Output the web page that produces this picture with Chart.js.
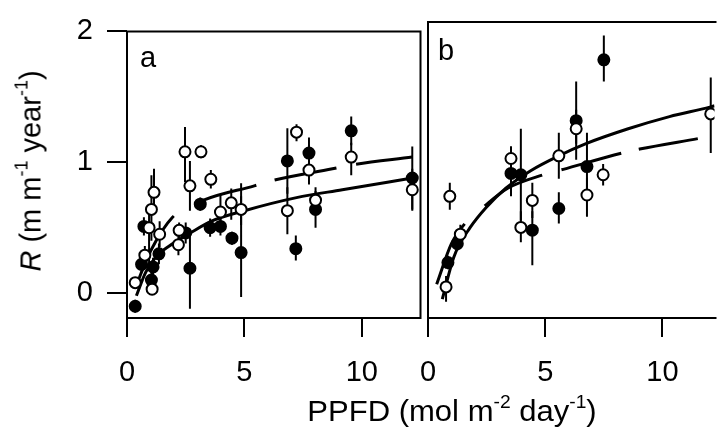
<!DOCTYPE html>
<html><head><meta charset="utf-8">
<script src="https://cdn.jsdelivr.net/npm/chart.js@4.4.1/dist/chart.umd.min.js"></script>
<style>
html,body{margin:0;padding:0;background:#fff;}
#wrap{position:relative;width:722px;height:432px;overflow:hidden;background:#fff;font-family:"Liberation Sans",Arial,sans-serif;color:#000;}
#ca{position:absolute;left:0;top:0;}
#cb{position:absolute;left:400px;top:0;}
.sup{font-size:0.62em;position:relative;top:-0.75em;}
#xt{position:absolute;left:252px;top:397px;width:400px;text-align:center;font-size:29px;line-height:29px;white-space:nowrap;transform:scaleX(1.07);}
#yt{position:absolute;left:31px;top:171px;width:320px;height:29px;line-height:29px;font-size:29px;text-align:center;white-space:nowrap;transform:translate(-50%,-50%) rotate(-90deg);}
</style></head>
<body>
<div id="wrap">
<canvas id="ca" width="428" height="432"></canvas>
<canvas id="cb" width="322" height="432"></canvas>
<div id="xt">PPFD (mol m<span class="sup">-2</span> day<span class="sup">-1</span>)</div>
<div id="yt"><i>R</i> (m m<span class="sup">-1</span> year<span class="sup">-1</span>)</div>
</div>
<script>
// ---- tick labels / panel labels ----
const panelLabels = ['a', 'b'];
const xTickValues = [0, 5, 10];
const yTickValues = [0, 1, 2];

// ---- panel a: filled circles ----
const aFilledX  = [0.35, 0.62, 0.72, 1.04, 1.11, 1.36, 2.5, 2.68, 3.12, 3.54, 3.98, 4.47, 4.86, 6.83, 7.19, 7.75, 8.03, 9.55, 12.15];
const aFilledY  = [-0.10, 0.22, 0.51, 0.10, 0.20, 0.30, 0.46, 0.19, 0.68, 0.50, 0.51, 0.42, 0.31, 1.01, 0.34, 1.07, 0.64, 1.24, 0.88];
const aFilledLo = [-0.15, 0.16, 0.44, 0.04, 0.13, 0.22, 0.38, -0.12, 0.63, 0.43, 0.44, 0.37, -0.03, 0.76, 0.25, 0.95, 0.50, 1.13, 0.64];
const aFilledHi = [-0.05, 0.28, 0.58, 0.16, 0.27, 0.38, 0.54, 0.47, 0.73, 0.57, 0.58, 0.47, 0.84, 1.26, 0.44, 1.19, 0.78, 1.35, 1.12];

// ---- panel a: open circles ----
const aOpenX  = [0.35, 0.76, 0.94, 1.04, 1.15, 1.07, 1.39, 2.22, 2.19, 2.47, 2.68, 3.15, 3.57, 3.98, 4.44, 4.86, 6.83, 7.22, 7.75, 8.03, 9.55, 12.15];
const aOpenY  = [0.08, 0.29, 0.50, 0.64, 0.77, 0.03, 0.45, 0.48, 0.37, 1.08, 0.82, 1.08, 0.87, 0.62, 0.69, 0.64, 0.63, 1.23, 0.94, 0.71, 1.04, 0.79];
const aOpenLo = [0.05, 0.22, 0.20, 0.40, 0.62, -0.01, 0.35, 0.42, 0.29, 0.85, 0.63, 1.03, 0.80, 0.50, 0.56, 0.52, 0.45, 1.16, 0.83, 0.60, 0.90, 0.63];
const aOpenHi = [0.11, 0.36, 0.62, 0.90, 0.95, 0.07, 0.55, 0.54, 0.45, 1.27, 1.01, 1.13, 0.94, 0.75, 0.80, 0.74, 0.81, 1.29, 1.05, 0.81, 1.15, 0.95];

// ---- panel b: filled circles ----
const bFilledX  = [0.85, 1.25, 3.54, 3.96, 4.45, 5.58, 6.32, 6.78, 7.5];
const bFilledY  = [0.22, 0.36, 0.88, 0.87, 0.46, 0.62, 1.27, 0.93, 1.72];
const bFilledLo = [0.17, 0.31, 0.71, 0.53, 0.20, 0.51, 1.10, 0.72, 1.56];
const bFilledHi = [0.27, 0.41, 1.00, 1.21, 0.60, 0.74, 1.56, 1.18, 1.90];

// ---- panel b: open circles ----
const bOpenX  = [0.77, 0.93, 1.38, 3.54, 3.96, 4.45, 5.58, 6.32, 6.78, 7.47, 12.06];
const bOpenY  = [0.04, 0.71, 0.43, 0.99, 0.48, 0.68, 1.01, 1.21, 0.72, 0.87, 1.32];
const bOpenLo = [-0.07, 0.61, 0.37, 0.90, 0.37, 0.55, 0.84, 0.98, 0.56, 0.79, 1.03];
const bOpenHi = [0.12, 0.81, 0.50, 1.08, 0.60, 0.81, 1.18, 1.35, 0.85, 0.95, 1.59];

// ---- fitted curves ----
const aSolidX = [0.4, 0.8, 1.25, 1.8, 2.7, 3.6, 5.0, 7.22, 9.17, 12.15];
const aSolidY = [-0.02, 0.16, 0.28, 0.36, 0.46, 0.55, 0.63, 0.73, 0.79, 0.88];
const aDashX  = [0.35, 1.0, 1.94, 3.26, 5.42, 6.18, 8.75, 9.58, 12.15];
const aDashY  = [0.04, 0.32, 0.58, 0.71, 0.82, 0.86, 0.95, 0.98, 1.04];
const bSolidX = [0.61, 1.1, 1.8, 2.49, 3.32, 4.38, 5.58, 6.74, 8.54, 10.3, 12.02, 12.22];
const bSolidY = [-0.05, 0.26, 0.48, 0.63, 0.77, 0.90, 1.01, 1.10, 1.21, 1.30, 1.37, 1.38];
const bDashX  = [0.37, 1.0, 1.58, 2.42, 3.4, 4.93, 5.77, 8.27, 9.03, 11.6, 12.22];
const bDashY  = [0.06, 0.36, 0.51, 0.64, 0.77, 0.87, 0.91, 1.03, 1.06, 1.14, 1.16];

const FONT = '"Liberation Sans", Arial, sans-serif';

function pts(xs, ys) { return xs.map((x, i) => ({ x: x, y: ys[i] })); }
function errSegs(xs, lo, hi) {
  const d = [];
  xs.forEach((x, i) => { d.push({ x: x, y: lo[i] }, { x: x, y: hi[i] }, { x: x, y: null }); });
  return d;
}

const framePlugin = {
  id: 'frame',
  afterDatasetsDraw(chart, args, opts) {
    const ctx = chart.ctx, a = chart.chartArea;
    ctx.save();
    ctx.strokeStyle = '#000';
    ctx.lineWidth = 2;
    ctx.beginPath();
    if (opts.closed) {
      ctx.rect(a.left, a.top, a.right - a.left, a.bottom - a.top);
    } else {
      ctx.moveTo(a.right + 2, a.top);
      ctx.lineTo(a.left, a.top);
      ctx.lineTo(a.left, a.bottom);
      ctx.lineTo(a.right + 2, a.bottom);
    }
    ctx.stroke();
    ctx.fillStyle = '#000';
    ctx.font = '29px ' + FONT;
    ctx.textBaseline = 'alphabetic';
    ctx.textAlign = 'left';
    ctx.fillText(opts.label, a.left + opts.dx, a.top + opts.dy);
    ctx.restore();
  }
};

function makeDatasets(fX, fY, fLo, fHi, oX, oY, oLo, oHi, sX, sY, dX, dY, dash) {
  return [
    { data: pts(oX, oY), showLine: false, pointRadius: 5.5, pointBackgroundColor: '#fff', pointBorderColor: '#000', pointBorderWidth: 2 },
    { data: pts(fX, fY), showLine: false, pointRadius: 5.5, pointBackgroundColor: '#000', pointBorderColor: '#000', pointBorderWidth: 2 },
    { data: errSegs(oX, oLo, oHi), showLine: true, spanGaps: false, pointRadius: 0, borderColor: '#000', borderWidth: 2 },
    { data: errSegs(fX, fLo, fHi), showLine: true, spanGaps: false, pointRadius: 0, borderColor: '#000', borderWidth: 2 },
    { data: pts(sX, sY), showLine: true, pointRadius: 0, borderColor: '#000', borderWidth: 3, cubicInterpolationMode: 'monotone' },
    { data: pts(dX, dY), showLine: true, pointRadius: 0, borderColor: '#000', borderWidth: 3, borderDash: dash, cubicInterpolationMode: 'monotone' }
  ];
}

function xScale(max) {
  return {
    type: 'linear', min: 0, max: max,
    afterBuildTicks: s => { s.ticks = xTickValues.map(v => ({ value: v })); },
    afterFit: s => { s.height = 114; },
    grid: { display: true, drawOnChartArea: false, drawTicks: true, tickLength: 19, color: '#000', lineWidth: 2 },
    border: { display: false },
    ticks: { color: '#000', font: { family: FONT, size: 29 }, padding: 19, maxRotation: 0, autoSkip: false, callback: v => String(v) }
  };
}
function yScale(show) {
  return {
    type: 'linear', min: -0.19, max: 2.0, display: show,
    afterBuildTicks: s => { s.ticks = yTickValues.map(v => ({ value: v })); },
    afterFit: s => { s.width = show ? 127 : 0; },
    grid: { display: true, drawOnChartArea: false, drawTicks: true, tickLength: 20, color: '#000', lineWidth: 2 },
    border: { display: false },
    ticks: { color: '#000', font: { family: FONT, size: 29 }, padding: 14, autoSkip: false, callback: v => String(v) }
  };
}

function baseOptions(xMax, showY, pad, frameOpts) {
  return {
    responsive: false, animation: false, devicePixelRatio: 1, events: [],
    layout: { padding: pad },
    plugins: { legend: { display: false }, tooltip: { enabled: false }, frame: frameOpts },
    scales: { x: xScale(xMax), y: yScale(showY) }
  };
}

new Chart(document.getElementById('ca'), {
  type: 'scatter',
  data: { datasets: makeDatasets(aFilledX, aFilledY, aFilledLo, aFilledHi, aOpenX, aOpenY, aOpenLo, aOpenHi, aSolidX, aSolidY, aDashX, aDashY, [82, 34, 55, 19, 63, 20, 64, 60]) },
  options: baseOptions(12.5, true, { left: 0, right: 0, top: 22, bottom: 0 }, { closed: true, label: panelLabels[0], dx: 13, dy: 36 }),
  plugins: [framePlugin]
});

new Chart(document.getElementById('cb'), {
  type: 'scatter',
  data: { datasets: makeDatasets(bFilledX, bFilledY, bFilledLo, bFilledHi, bOpenX, bOpenY, bOpenLo, bOpenHi, bSolidX, bSolidY, bDashX, bDashY, [67, 27, 66, 20, 62, 18, 60, 40]) },
  options: baseOptions(12.22, false, { left: 28, right: 0, top: 22, bottom: 0 }, { closed: false, label: panelLabels[1], dx: 10, dy: 38 }),
  plugins: [framePlugin]
});
</script>
</body></html>
